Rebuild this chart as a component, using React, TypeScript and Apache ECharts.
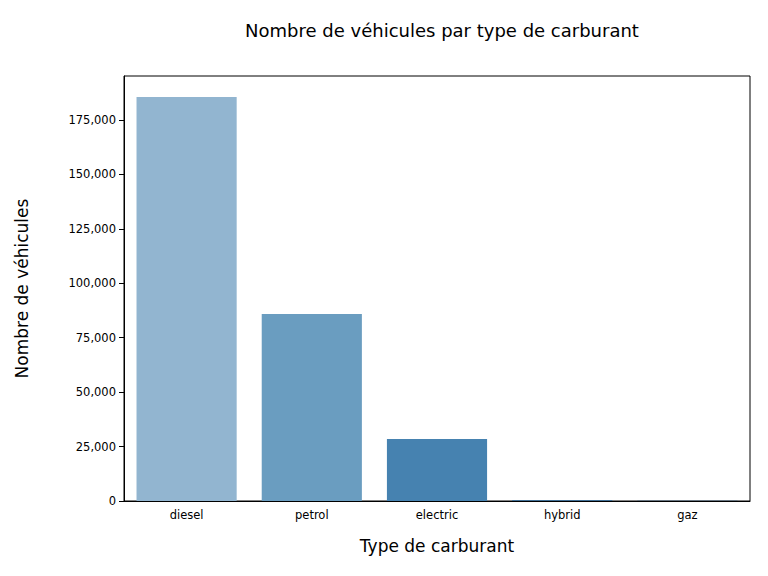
import React, { useEffect, useRef } from 'react';
import * as echarts from 'echarts';

const categories = ['diesel', 'petrol', 'electric', 'hybrid', 'gaz'];
const counts = [185600, 85900, 28500, 300, 60];
const colors = ['#92b5d0', '#6a9dc0', '#4682b0', '#2d6a9c', '#22557f'];

const App: React.FC = () => {
  const chartRef = useRef<HTMLDivElement>(null);

  useEffect(() => {
    if (!chartRef.current) return;
    const chart = echarts.init(chartRef.current, null, { renderer: 'svg' });
    chart.setOption({
      animation: false,
      textStyle: { fontFamily: 'DejaVu Sans' },
      title: {
        text: 'Nombre de véhicules par type de carburant',
        left: 437,
        top: 16,
        textAlign: 'center',
        textStyle: { fontSize: 18, fontWeight: 'normal', color: '#000' },
      },
      grid: { left: 124, right: 18, top: 76, bottom: 75 },
      xAxis: {
        type: 'category',
        data: categories,
        name: 'Type de carburant',
        nameLocation: 'middle',
        nameGap: 36,
        nameTextStyle: { fontSize: 17, color: '#000' },
        axisLine: { lineStyle: { color: '#000' } },
        axisTick: { alignWithLabel: true, lineStyle: { color: '#000' } },
        axisLabel: { color: '#000', fontSize: 11.5 },
      },
      yAxis: {
        type: 'value',
        min: 0,
        max: 195200,
        interval: 25000,
        name: 'Nombre de véhicules',
        nameLocation: 'middle',
        nameGap: 94,
        nameTextStyle: { fontSize: 17, color: '#000' },
        splitLine: { show: false },
        axisLine: { show: true, lineStyle: { color: '#000' } },
        axisTick: { show: true, lineStyle: { color: '#000' } },
        axisLabel: { color: '#000', fontSize: 11.5, showMaxLabel: false },
      },
      series: [
        {
          type: 'bar',
          barCategoryGap: '20%',
          data: counts.map((v, i) => ({ value: v, itemStyle: { color: colors[i] } })),
        },
      ],
      graphic: [
        {
          type: 'rect',
          shape: { x: 124, y: 76, width: 626, height: 425 },
          style: { fill: 'none', stroke: '#000', lineWidth: 1 },
          silent: true,
        },
      ],
    });
    return () => chart.dispose();
  }, []);

  return <div ref={chartRef} style={{ width: 768, height: 576, margin: -8 }} />;
};

export default App;
